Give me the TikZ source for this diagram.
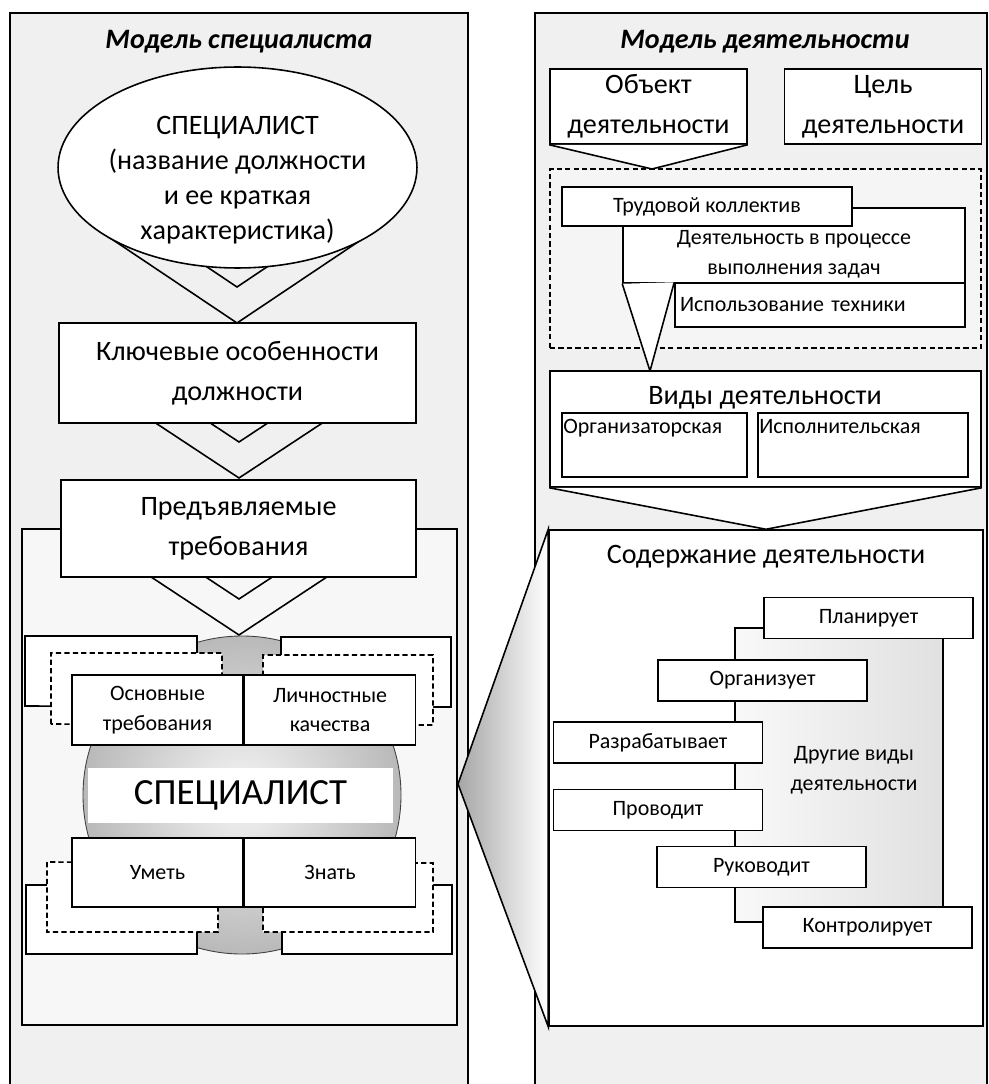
\documentclass[tikz,border=0pt]{standalone}
\usepackage{fontspec}
\setmainfont{Carlito}
\usetikzlibrary{positioning,shapes.geometric}

\tikzset{
  box/.style={draw, fill=white, line width=0.9pt, inner sep=0pt, align=center},
  bigtxt/.style={font=\fontsize{16}{22.7}\selectfont, align=center},
  smalltxt/.style={font=\fontsize{12.5}{17}\selectfont, align=center},
  paneltitle/.style={font=\fontsize{16}{20}\selectfont\bfseries\itshape},
  chev/.style={draw, line width=0.9pt},
  panel/.style={draw, line width=0.9pt, fill=gray!12},
  brk/.style={draw, line width=0.9pt, fill=white},
  dbrk/.style={brk, dash pattern=on 3pt off 1.8pt},
  act/.style={box, smalltxt, minimum width=41.8mm, minimum height=8.2mm},
}

\begin{document}
\begin{tikzpicture}[x=0.02cm, y=-0.02cm]
  \useasboundingbox (0,0) rectangle (989,1084);
  \clip (0,0) rectangle (989,1084);
  \fill[white] (0,0) rectangle (989,1084);

  % panels
  \draw[panel] (10,13) rectangle (468,1100);
  \draw[panel] (535,13) rectangle (987,1100);
  \node[paneltitle] (titleL) at (239,42) {Модель специалиста};
  \node[paneltitle] (titleR) at (765,42) {Модель деятельности};

  % left: model of the specialist
  \node[draw, line width=0.9pt, fill=gray!6, minimum width=87mm, minimum height=99.2mm, inner sep=0pt] (lower) at (239.5,777) {};

  \draw[chev] (101.2,232) -- (237,323) -- (372.8,232) -- (319.1,232) -- (237,287) -- (154.9,232) -- cycle;
  \node[draw, ellipse, fill=white, line width=0.9pt, minimum width=71.8mm, minimum height=40.2mm, inner sep=0pt] (spec) at (237.5,167.5) {};
  \node[bigtxt, font=\fontsize{16}{19.8}\selectfont] (specTxt) at (237.5,180) {СПЕЦИАЛИСТ\\(название должности\\и ее краткая\\характеристика)};

  \draw[chev] (140.5,413) -- (239,478) -- (337.5,413) -- (282.9,413) -- (239,442) -- (195.1,413) -- cycle;
  \node[box, bigtxt, minimum width=71.4mm, minimum height=20mm] (klyuch) at (237.5,373) {Ключевые особенности\\должности};

  \draw[chev] (136,567) -- (239,635) -- (342,567) -- (287.5,567) -- (239,599) -- (190.5,567) -- cycle;
  \node[box, bigtxt, minimum width=71mm, minimum height=19.4mm] (pred) at (238.5,528.5) {Предъявляемые\\требования};

  % specialist core
  \shadedraw[inner color=gray!8, outer color=gray!55, draw=gray!50!black, line width=0.5pt] (242,795) circle (159);
  \draw[brk] (25,706) -- (25,636) -- (197,636) -- (197,690) -- (281,690) -- (281,637) -- (451,637) -- (451,707) -- cycle;
  \draw[brk] (26,885) -- (26,954) -- (197,954) -- (197,900) -- (282,900) -- (282,954) -- (452,954) -- (452,885) -- cycle;
  \draw[dbrk] (51,724) -- (51,653) -- (222,653) -- (222,700) -- (263,700) -- (263,655) -- (433,655) -- (433,725) -- cycle;
  \draw[dbrk] (47,862) -- (47,932) -- (218,932) -- (218,890) -- (263,890) -- (263,932) -- (433,932) -- (433,863) -- cycle;

  \node[box, smalltxt, minimum width=34.2mm, minimum height=14mm] (osn) at (157.5,710) {Основные\\требования};
  \node[box, smalltxt, minimum width=34.2mm, minimum height=14mm, right=0mm of osn] (lich) {Личностные\\качества};
  \node[box, smalltxt, minimum width=34.2mm, minimum height=13.8mm] (umet) at (157.5,872.5) {Уметь};
  \node[box, smalltxt, minimum width=34.2mm, minimum height=13.8mm, right=0mm of umet] (znat) {Знать};
  \node[fill=white, minimum width=61mm, minimum height=11mm, font=\fontsize{21}{25}\selectfont] (specBig) at (240.5,795) {СПЕЦИАЛИСТ};

  % right: model of the activity
  \node[box, bigtxt, minimum width=39.4mm, minimum height=15mm] (obj) at (648.5,106.5) {Объект\\деятельности};
  \node[box, bigtxt, minimum width=39.4mm, minimum height=15mm, right=7.2mm of obj] (cel) {Цель\\деятельности};
  \coordinate (objTip) at (652,169);
  \draw[chev, fill=white] (obj.south west) -- (objTip) -- (obj.south east);

  \node[draw, dash pattern=on 3pt off 1.8pt, line width=0.9pt, fill=gray!8, minimum width=86.2mm, minimum height=35.8mm, inner sep=0pt] (grp) at (765.5,258.5) {};
  \node[box, minimum width=68.4mm, minimum height=15mm] (dej) at (794,245.5) {};
  \node[smalltxt] (dejTxt) at (794,254) {Деятельность в процессе\\выполнения задач};
  \node[box, smalltxt, minimum width=58mm, minimum height=7.8mm] (trud) at (707,206.5) {Трудовой коллектив};
  \node[box, smalltxt, minimum height=8.8mm, inner xsep=1mm, text width=56mm, align=left] (isp) at (820,305) {Использование техники};

  \coordinate (vidTip) at (650,371);
  \draw[chev, fill=white] (dej.south west) -- (vidTip) -- (isp.north west);

  \node[box, minimum width=86.2mm, minimum height=23.2mm] (vid) at (765.5,429) {};
  \node[bigtxt] (vidTxt) at (765,398) {Виды деятельности};
  \node[box, minimum width=37mm, minimum height=12.8mm] (org) at (654.5,445) {};
  \node[smalltxt, anchor=north west, inner xsep=1pt, inner ysep=4pt] (orgTxt) at (org.north west) {Организаторская};
  \node[box, minimum width=42mm, minimum height=12.8mm] (ispl) at (863,445) {};
  \node[smalltxt, anchor=north west, inner xsep=1pt, inner ysep=4pt] (isplTxt) at (ispl.north west) {Исполнительская};

  \node[box, minimum width=86.8mm, minimum height=99.2mm] (sod) at (766,778) {};
  \coordinate (wedgeTip) at (458,784);
  \shadedraw[left color=gray!70, middle color=gray!15, right color=white, line width=0.9pt] (wedgeTip) -- (sod.north west) -- (sod.south west) -- cycle;
  \draw[chev, fill=white] (vid.south west) -- (sod.north) -- (vid.south east);
  \node[bigtxt] (sodTxt) at (766,557) {Содержание деятельности};

  \node[draw, line width=0.9pt, left color=gray!5, right color=gray!24, minimum width=41.6mm, minimum height=58.8mm, inner sep=0pt] (other) at (839,775) {};
  \node[smalltxt] (otherTxt) at (854,770) {Другие виды\\деятельности};
  \node[act] (plan) at (868.5,618) {Планирует};
  \node[act] (orgz) at (762.5,680.5) {Организует};
  \node[act] (razr) at (658,742.5) {Разрабатывает};
  \node[act, below=5mm of razr] (prov) {Проводит};
  \node[act] (ruk) at (761.5,867) {Руководит};
  \node[act] (kontr) at (867.5,927.5) {Контролирует};
\end{tikzpicture}
\end{document}
